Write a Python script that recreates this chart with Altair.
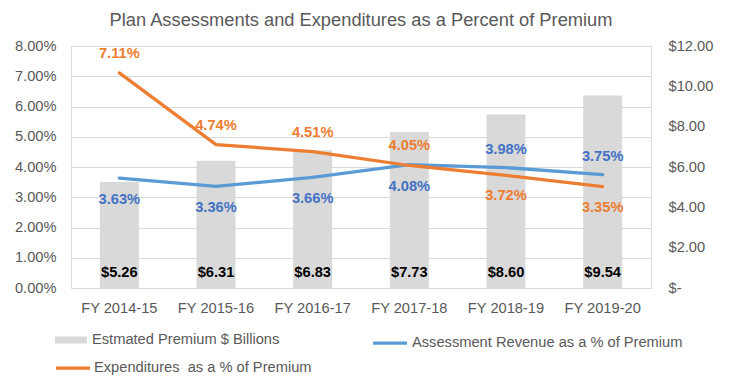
import altair as alt
import pandas as pd

years = ["FY 2014-15", "FY 2015-16", "FY 2016-17", "FY 2017-18", "FY 2018-19", "FY 2019-20"]
premium = [5.26, 6.31, 6.83, 7.73, 8.60, 9.54]
assessment = [3.63, 3.36, 3.66, 4.08, 3.98, 3.75]
expenditures = [7.11, 4.74, 4.51, 4.05, 3.72, 3.35]
assess_side = ["below", "below", "below", "below", "above", "above"]
exp_side = ["above", "above", "above", "above", "below", "below"]

PREM = "Estmated Premium $ Billions"
ASSESS = "Assessment Revenue as a % of Premium"
EXP = "Expenditures\u00a0 as a % of Premium"

FONT = "Liberation Sans"
GREY_TXT = "#595959"
BAR_C = "#d9d9d9"
BLUE = "#5b9bd5"
BLUE_TXT = "#4472c4"
ORANGE = "#ed7d31"

df = pd.DataFrame({
    "year": years,
    "premium": premium,
    "assessment": assessment,
    "expenditures": expenditures,
    "assess_side": assess_side,
    "exp_side": exp_side,
    "prem_series": PREM,
    "assess_series": ASSESS,
    "exp_series": EXP,
})

base = alt.Chart(df)

x_enc = alt.X(
    "year:N", sort=years,
    scale=alt.Scale(paddingInner=0.597, paddingOuter=0.2985),
    axis=alt.Axis(title=None, labelAngle=0, ticks=False, domain=False,
                  labelPadding=12, labelFontSize=14.67, labelColor=GREY_TXT, labelFont=FONT),
)

pct_scale = alt.Scale(domain=[0, 8])
usd_scale = alt.Scale(domain=[0, 12])

left_axis = alt.Axis(
    title=None, values=[0, 1, 2, 3, 4, 5, 6, 7, 8],
    labelExpr="format(datum.value, '.2f') + '%'",
    ticks=False, domain=False, grid=True, gridColor="#d9d9d9", gridWidth=1,
    labelPadding=15, labelFontSize=14.67, labelColor=GREY_TXT, labelFont=FONT,
)
right_axis = alt.Axis(
    orient="right", title=None, values=[0, 2, 4, 6, 8, 10, 12],
    labelExpr="datum.value == 0 ? '$-' : '$' + format(datum.value, '.2f')",
    ticks=False, domain=False, grid=False,
    labelPadding=17, labelFontSize=14.67, labelColor=GREY_TXT, labelFont=FONT,
)

bars = base.mark_bar().encode(
    x=x_enc,
    y=alt.Y("premium:Q", scale=usd_scale, axis=right_axis),
    fill=alt.Fill("prem_series:N", scale=alt.Scale(domain=[PREM], range=[BAR_C]),
                  legend=alt.Legend(orient="none", legendX=-16, legendY=278, title=None,
                                    symbolType="M-1,-0.22H1V0.22H-1Z", symbolSize=1024,
                                    symbolStrokeWidth=0, labelOffset=5, labelFontSize=14.67,
                                    labelColor=GREY_TXT, labelFont=FONT, labelLimit=400,
                                    padding=0)),
)

# bar labels: show the value, placed at the bottom of each bar
bar_text = base.transform_calculate(
    premium_label="'$' + format(datum.premium, '.2f')",
    base_pos="0",
).mark_text(dy=-15, fontWeight="bold", fontSize=14.67, color="black",
            font=FONT, baseline="middle").encode(
    x=x_enc,
    y=alt.Y("base_pos:Q", scale=usd_scale, axis=right_axis),
    text=alt.Text("premium_label:N"),
)
bar_group = alt.layer(bars, bar_text)

line_assess = base.mark_line(strokeWidth=3.25, strokeCap="round").encode(
    x=x_enc,
    y=alt.Y("assessment:Q", scale=pct_scale, axis=left_axis),
    stroke=alt.Stroke("assess_series:N", scale=alt.Scale(domain=[ASSESS], range=[BLUE]),
                      legend=alt.Legend(orient="none", legendX=300, legendY=278, title=None,
                                        symbolType="stroke", symbolSize=1156,
                                        symbolStrokeWidth=3.25, labelOffset=3,
                                        labelFontSize=14.67, labelColor=GREY_TXT,
                                        labelFont=FONT, labelLimit=400, padding=0)),
)
line_exp = base.mark_line(strokeWidth=3.25, strokeCap="round").encode(
    x=x_enc,
    y=alt.Y("expenditures:Q", scale=pct_scale, axis=left_axis),
    color=alt.Color("exp_series:N", scale=alt.Scale(domain=[EXP], range=[ORANGE]),
                    legend=alt.Legend(orient="none", legendX=-17, legendY=303, title=None,
                                      symbolType="stroke", symbolSize=1156,
                                      symbolStrokeWidth=3.25, labelOffset=2,
                                      labelFontSize=14.67, labelColor=GREY_TXT,
                                      labelFont=FONT, labelLimit=400, padding=0)),
)


def labels(field, side_field, side, color, dy):
    return base.transform_filter(
        alt.datum[side_field] == side
    ).transform_calculate(
        lbl=f"format(datum['{field}'], '.2f') + '%'"
    ).mark_text(dy=dy, fontWeight="bold", fontSize=14.67, color=color,
                font=FONT, baseline="middle").encode(
        x=x_enc,
        y=alt.Y(f"{field}:Q", scale=pct_scale, axis=left_axis),
        text="lbl:N",
    )


line_group = alt.layer(
    line_assess, line_exp,
    labels("assessment", "assess_side", "below", BLUE_TXT, 22),
    labels("assessment", "assess_side", "above", BLUE_TXT, -18),
    labels("expenditures", "exp_side", "above", ORANGE, -19),
    labels("expenditures", "exp_side", "below", ORANGE, 21),
)

chart = alt.layer(bar_group, line_group).resolve_scale(
    y="independent"
).properties(
    width=580, height=242,
    autosize="none",
    padding={"left": 63, "top": 38, "right": 80, "bottom": 88},
    title=alt.TitleParams(
        "Plan Assessments and Expenditures as a Percent of Premium",
        fontSize=18.3, color=GREY_TXT, fontWeight="normal", font=FONT, offset=8,
    ),
).configure_view(stroke=None).configure(font=FONT, background="white")

chart.save("out.html", embed_options={"renderer": "svg", "actions": False})
